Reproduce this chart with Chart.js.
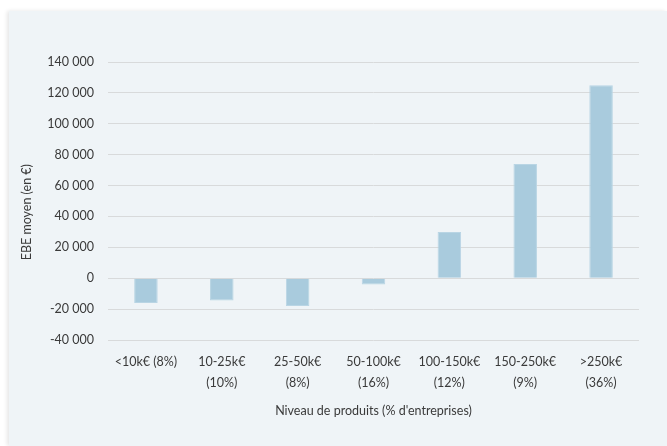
<!DOCTYPE html>
<html>
<head>
<meta charset="utf-8">
<script src="https://cdn.jsdelivr.net/npm/chart.js@4"></script>
<style>
  html, body { margin: 0; padding: 0; background: #fff; }
  #panel {
    position: absolute; left: 9px; top: 11px; width: 658px; height: 435px;
    background: #eff4f7; box-shadow: -2px 0 4px rgba(0,0,0,0.10);
  }
  canvas { display: block; }
</style>
</head>
<body>
<div id="panel"><canvas id="myChart" width="658" height="435"></canvas></div>
<script>
const categories = [
  '<10k€ (8%)',
  ['10-25k€', '(10%)'],
  ['25-50k€', '(8%)'],
  ['50-100k€', '(16%)'],
  ['100-150k€', '(12%)'],
  ['150-250k€', '(9%)'],
  ['>250k€', '(36%)'],
]
const ebeMoyen = [-16000, -14500, -18000, -4000, 30000, 74000, 125000]
const yTicks = [-40000, -20000, 0, 20000, 40000, 60000, 80000, 100000, 120000, 140000]

const textColor = '#3a3a3a'
const fontFamily = 'Lato, "Open Sans", sans-serif'

const formatNumber = (v) => {
  let s = Math.abs(v).toString().replace(/\B(?=(\d{3})+(?!\d))/g, ' ')
  return (v < 0 ? '-' : '') + s
}

const config = {
  type: 'bar',
  data: {
    labels: categories,
    datasets: [
      {
        data: ebeMoyen,
        backgroundColor: '#a9cbdd',
        borderColor: '#b9d5e4',
        borderWidth: 1,
        barPercentage: 1,
        categoryPercentage: 0.31,
      },
    ],
  },
  options: {
    responsive: false,
    animation: false,
    layout: { padding: { top: 51, right: 28, left: 0, bottom: 0 } },
    plugins: { legend: { display: false }, tooltip: { enabled: false } },
    scales: {
      x: {
        grid: { display: false, drawTicks: false },
        border: { display: false },
        ticks: {
          color: textColor,
          padding: 12,
          maxRotation: 0,
          autoSkip: false,
          font: { family: fontFamily, size: 12.5, lineHeight: 1.65 },
        },
        title: {
          display: true,
          text: "Niveau de produits (% d'entreprises)",
          color: textColor,
          font: { family: fontFamily, size: 12.5 },
          padding: { top: 4, bottom: 28 },
        },
        afterFit: (scale) => { scale.height = 106 },
      },
      y: {
        min: -40000,
        max: 140000,
        grid: { color: '#d8dadb', lineWidth: 1, drawTicks: false },
        border: { display: false },
        afterBuildTicks: (scale) => { scale.ticks = yTicks.map((v) => ({ value: v })) },
        ticks: {
          color: textColor,
          padding: 14,
          font: { family: fontFamily, size: 12.5 },
          callback: (v) => formatNumber(v),
        },
        title: {
          display: true,
          // trailing spaces push the rotated text a little lower, as in the original
          text: 'EBE moyen (en €)       ',
          color: textColor,
          font: { family: fontFamily, size: 12.5 },
          padding: { top: 10, bottom: 0 },
        },
        afterFit: (scale) => { scale.width = 99 },
      },
    },
  },
}

var myChart = new Chart(document.getElementById('myChart'), config)
</script>
</body>
</html>
